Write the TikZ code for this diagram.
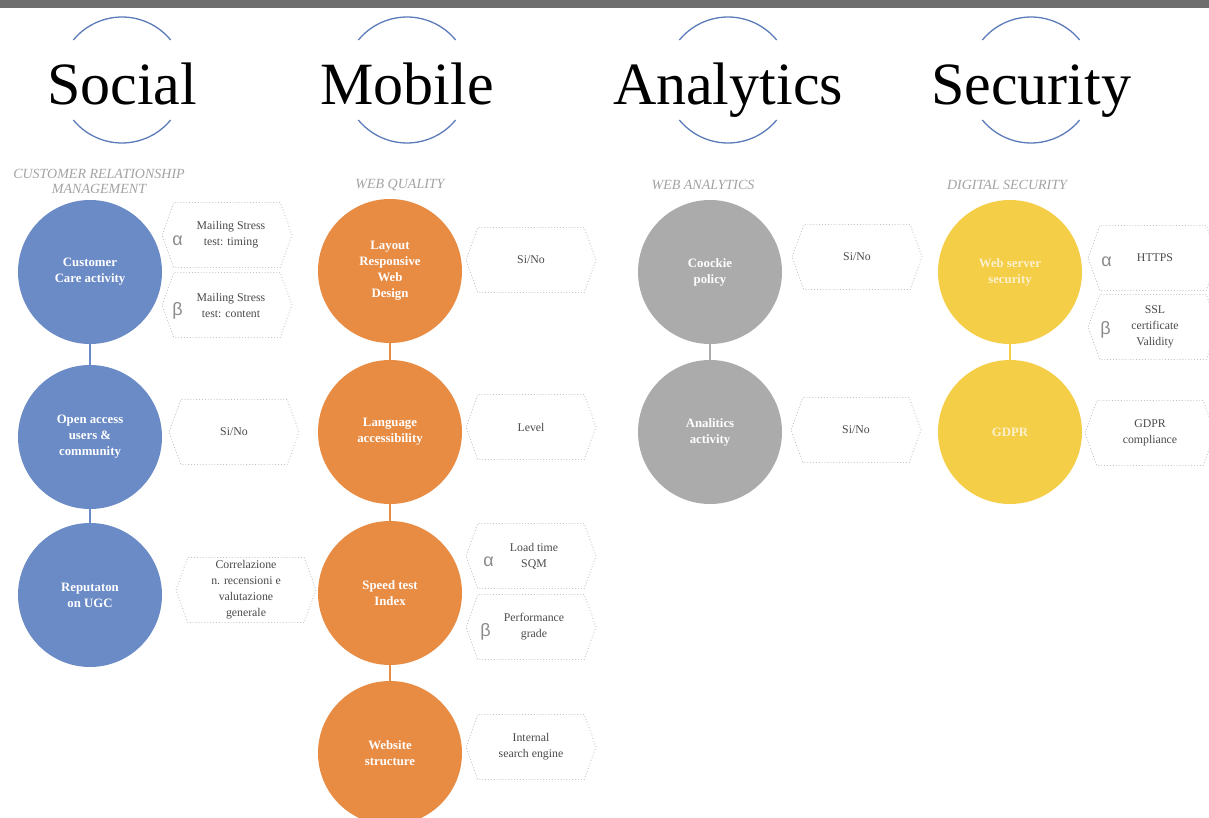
\documentclass[tikz,border=0pt]{standalone}
\usepackage{fontspec}
\setmainfont{Liberation Serif}
\newfontfamily\greekfont{Liberation Sans}
\usetikzlibrary{shapes.symbols}

\definecolor{socialblue}{HTML}{6A8BC6}
\definecolor{mobileorange}{HTML}{E88B43}
\definecolor{analyticsgray}{HTML}{ABABAB}
\definecolor{securityyellow}{HTML}{F5CE48}
\definecolor{securitytext}{HTML}{FCF1CC}
\definecolor{arcblue}{HTML}{5C7BBA}
\definecolor{bargray}{HTML}{6E6E6E}
\definecolor{subgray}{HTML}{A3A3A3}
\definecolor{hexline}{HTML}{C4C4C4}
\definecolor{hextext}{HTML}{4A4A4A}
\definecolor{greektext}{HTML}{8C8C8C}

\tikzset{
  header/.style={anchor=base, font=\fontsize{60}{60}\selectfont, text=black, inner sep=0pt},
  headarc/.style={draw=arcblue, line width=1.3pt},
  subtitle/.style={font=\itshape\fontsize{14}{15}\selectfont, text=subgray, align=center, inner sep=0pt},
  bubble/.style={circle, minimum size=144pt, inner sep=0pt, fill=#1, text=white,
    font=\bfseries\fontsize{12.8}{16}\selectfont, align=center},
  link/.style={draw=#1, line width=2pt},
  hexbox/.style={shape=signal, signal to=west and east, signal pointer angle=140,
    draw=hexline, dotted, line width=0.9pt, minimum width=130pt, minimum height=65pt,
    inner sep=0pt, text=hextext, font=\fontsize{11.8}{16}\selectfont, align=center},
  greek/.style={font=\greekfont\fontsize{18}{18}\selectfont, text=greektext, inner sep=0pt},
}

\begin{document}
\begin{tikzpicture}[x=1pt,y=1pt]
\useasboundingbox (0,0) rectangle (1209,-818);
\fill[white] (0,0) rectangle (1209,-818);
% top band
\fill[bargray] (0,0) rectangle (1209,-8);

% column headings with their framing arcs
\foreach \name/\cx/\word in {hsoc/122/Social, hmob/407/Mobile, hana/728/Analytics, hsec/1031/Security}{
  \node[header] (\name) at (\cx,-105) {\word};
  \draw[headarc] (\cx,-80) ++(39.4:63) arc[start angle=39.4, end angle=140.6, radius=63];
  \draw[headarc] (\cx,-80) ++(219.4:63) arc[start angle=219.4, end angle=320.6, radius=63];
}

% column subtitles
\node[subtitle] (tsoc) at (99,-181) {CUSTOMER RELATIONSHIP\\MANAGEMENT};
\node[subtitle] (tmob) at (400,-185) {WEB QUALITY};
\node[subtitle] (tana) at (703,-185) {WEB ANALYTICS};
\node[subtitle] (tsec) at (1007,-185) {DIGITAL SECURITY};

% ---------------- Social ----------------
\node[bubble=socialblue] (s1) at (90,-272) {Customer\\Care activity};
\node[bubble=socialblue] (s2) at (90,-437) {Open access\\users \&\\community};
\node[bubble=socialblue] (s3) at (90,-595) {Reputaton\\on UGC};
\draw[link=socialblue] (s1) -- (s2);
\draw[link=socialblue] (s2) -- (s3);

\node[hexbox] (s1a) at (227,-235) {\hspace*{8pt}Mailing Stress\\\hspace*{8pt}test: timing};
\node[hexbox] (s1b) at (227,-305) {\hspace*{8pt}Mailing Stress\\\hspace*{8pt}test: content};
\node[greek] (s1ag) at ([xshift=16pt,yshift=-6pt]s1a.west) {α};
\node[greek] (s1bg) at ([xshift=16pt,yshift=-6pt]s1b.west) {β};
\node[hexbox] (s2a) at (234,-432) {Si/No};
\node[hexbox, minimum width=140pt] (s3a) at (246,-590) {Correlazione\\n. recensioni e\\valutazione\\generale};

% ---------------- Mobile ----------------
\node[bubble=mobileorange] (m1) at (390,-271) {Layout\\Responsive\\Web\\Design};
\node[bubble=mobileorange] (m2) at (390,-432) {Language\\accessibility};
\node[bubble=mobileorange] (m3) at (390,-593) {Speed test\\Index};
\node[bubble=mobileorange] (m4) at (390,-753) {Website\\structure};
\draw[link=mobileorange] (m1) -- (m2);
\draw[link=mobileorange] (m2) -- (m3);
\draw[link=mobileorange] (m3) -- (m4);

\node[hexbox] (m1a) at (531,-260) {Si/No};
\node[hexbox] (m2a) at (531,-427) {Level};
\node[hexbox] (m3a) at (531,-556) {\hspace*{6pt}Load time\\\hspace*{6pt}SQM};
\node[hexbox] (m3b) at (531,-627) {\hspace*{6pt}Performance\\\hspace*{6pt}grade};
\node[greek] (m3ag) at ([xshift=23pt,yshift=-6pt]m3a.west) {α};
\node[greek] (m3bg) at ([xshift=20pt,yshift=-5pt]m3b.west) {β};
\node[hexbox] (m4a) at (531,-747) {Internal\\search engine};

% ---------------- Analytics ----------------
\node[bubble=analyticsgray] (a1) at (710,-272) {Coockie\\policy};
\node[bubble=analyticsgray] (a2) at (710,-432) {Analitics\\activity};
\draw[link=analyticsgray] (a1) -- (a2);

\node[hexbox] (a1a) at (857,-257) {Si/No};
\node[hexbox] (a2a) at (856,-430) {Si/No};

% ---------------- Security ----------------
\node[bubble=securityyellow, text=securitytext] (c1) at (1010,-272) {Web server\\security};
\node[bubble=securityyellow, text=securitytext] (c2) at (1010,-432) {GDPR};
\draw[link=securityyellow] (c1) -- (c2);

\node[hexbox] (c1a) at (1153,-258) {\hspace*{4pt}HTTPS};
\node[hexbox] (c1b) at (1153,-327) {\hspace*{4pt}SSL\\\hspace*{4pt}certificate\\\hspace*{4pt}Validity};
\node[greek] (c1ag) at ([xshift=19pt,yshift=-4pt]c1a.west) {α};
\node[greek] (c1bg) at ([xshift=18pt,yshift=-3pt]c1b.west) {β};
\node[hexbox] (c2a) at (1150,-433) {GDPR\\compliance};
\end{tikzpicture}
\end{document}
